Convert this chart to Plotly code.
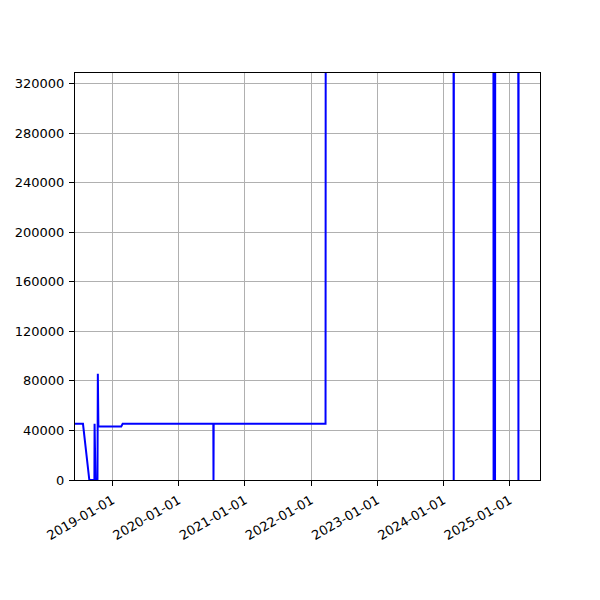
import plotly.graph_objects as go

# step series; values above the y limit are clipped
dates = [
    "2018-06-09", "2018-07-23", "2018-08-27", "2018-09-24", "2018-09-25",
    "2018-09-30", "2018-10-11", "2018-10-13", "2018-10-16", "2019-02-19",
    "2019-02-27", "2020-07-11", "2020-07-12", "2020-07-13", "2022-03-22",
    "2022-03-23", "2024-02-26", "2024-02-27", "2024-02-28", "2024-10-03",
    "2024-10-04", "2024-10-12", "2024-10-13", "2025-02-17", "2025-02-18",
    "2025-02-19", "2025-06-17",
]
values = [
    45400, 45400, 0, 0, 45400,
    0, 0, 85800, 43200, 43200,
    45400, 45400, 0, 45400, 45400,
    400000, 400000, 0, 400000, 400000,
    0, 0, 400000, 400000, 0,
    400000, 400000,
]

x_range = ["2018-06-09", "2025-06-17"]
y_range = [0, 328600]
y_ticks = [0, 40000, 80000, 120000, 160000, 200000, 240000, 280000, 320000]
x_ticks = ["2019-01-01", "2020-01-01", "2021-01-01", "2022-01-01",
           "2023-01-01", "2024-01-01", "2025-01-01"]

fig = go.Figure()
fig.add_scatter(x=dates, y=values, mode="lines",
                line=dict(color="blue", width=2, simplify=False), showlegend=False)

axis_style = dict(showline=True, linewidth=1, linecolor="black", mirror=True,
                  ticks="outside", ticklen=5, tickcolor="black",
                  showgrid=True, gridcolor="#b0b0b0", gridwidth=1,
                  zeroline=False, automargin=False,
                  tickfont=dict(size=13, color="black"))

fig.update_xaxes(range=x_range, tickvals=x_ticks, ticktext=x_ticks,
                 tickangle=-30, ticklabelstandoff=2, **axis_style)
fig.update_yaxes(range=y_range, tickvals=y_ticks, tickformat="d",
                 ticklabelstandoff=2, **axis_style)

# page body adds an 8px offset, so the margins are shifted to compensate
fig.update_layout(
    width=600, height=600,
    plot_bgcolor="white", paper_bgcolor="white",
    font=dict(family="DejaVu Sans", color="black"),
    margin=dict(l=67, r=68, t=65, b=128),
)

fig.write_html("out.html")
